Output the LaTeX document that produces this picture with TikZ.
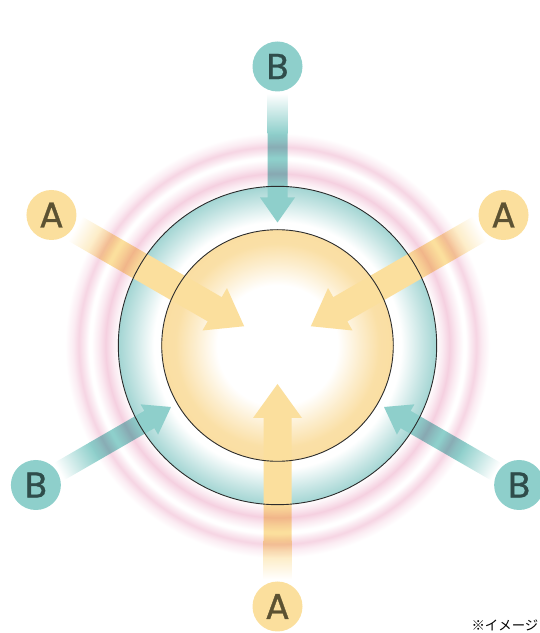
\documentclass[tikz,border=0pt]{standalone}
\usepackage{fontspec}
\setmainfont{Poppins}
\newfontfamily\lblfont{Poppins}[FakeBold=0.8]
\newfontfamily\jpfont{Noto Sans CJK JP}
\usetikzlibrary{calc}
\definecolor{yelA}{RGB}{251,223,157}
\definecolor{tealB}{RGB}{142,207,203}
\definecolor{txtA}{RGB}{92,82,50}
\definecolor{txtB}{RGB}{47,77,75}
\definecolor{tealring}{RGB}{163,213,211}
\definecolor{yelring}{RGB}{250,222,162}
\definecolor{pinkring}{RGB}{245,208,224}
\definecolor{outline}{RGB}{45,45,45}
\pgfdeclareradialshading{outerdisc}{\pgfpoint{0bp}{0bp}}{color(0bp)=(white); color(19.4bp)=(white); color(22.8bp)=(tealring!62); color(25bp)=(tealring); color(50bp)=(tealring)}
\pgfdeclareradialshading{innerdisc}{\pgfpoint{0bp}{0bp}}{color(0bp)=(white); color(13bp)=(white); color(18bp)=(yelring!55); color(22bp)=(yelring!95); color(25bp)=(yelring); color(50bp)=(yelring)}
\pgfdeclareradialshading{pinkrings}{\pgfpoint{0bp}{0bp}}{color(0bp)=(white); color(18.4bp)=(white); color(19.2bp)=(pinkring!45); color(20bp)=(pinkring); color(20.8bp)=(pinkring!45); color(21.6bp)=(white); color(21.9bp)=(white); color(22.4bp)=(pinkring!40); color(23.1bp)=(pinkring!90); color(23.8bp)=(pinkring!40); color(24.7bp)=(white); color(50bp)=(white)}
\tikzset{
  lblA/.style={circle, fill=yelA, minimum size=50pt, inner sep=0pt, text=txtA, font=\lblfont\fontsize{36}{36}\selectfont},
  lblB/.style={circle, fill=tealB, minimum size=50pt, inner sep=0pt, text=txtB, font=\lblfont\fontsize{36}{36}\selectfont},
  ringline/.style={draw=outline, line width=0.9pt},
}
% #1 angle, #2 colour, #3 tip distance, #4 head length, #5 head half width,
% #6 shaft half width, #7 end of solid shaft, #8 end of faded shaft
\newcommand{\flowarrow}[8]{%
  \begin{scope}[transform canvas={shift={(c)}, rotate=#1}]
    \fill[#2] (#3,0) -- ({#3+#4},#5) -- ({#3+#4},#6) -- (#7,#6) -- (#7,-#6)
      -- ({#3+#4},-#6) -- ({#3+#4},-#5) -- cycle;
    \shade[left color=#2, right color=white] ({#7-0.4},-#6) rectangle (#8,#6);
  \end{scope}}
\begin{document}
\begin{tikzpicture}[x=1pt, y=1pt]
\useasboundingbox (0,0) rectangle (540,633);
\coordinate (c) at (277.5,287.5);
% filled discs
\shade[shading=outerdisc] (c) circle (159.2);
\shade[shading=innerdisc] (c) circle (115.8);
% arrows
\flowarrow{-90}{yelA}{38.5}{34}{24.5}{14}{195}{234}
\flowarrow{150}{yelA}{38.5}{34}{24.5}{14}{195}{234}
\flowarrow{30}{yelA}{38.5}{34}{24.5}{14}{195}{234}
\flowarrow{90}{tealB}{123}{25}{17.5}{10}{212}{252}
\flowarrow{210}{tealB}{123}{25}{17.5}{10}{212}{252}
\flowarrow{330}{tealB}{123}{25}{17.5}{10}{212}{252}
% circle outlines
\draw[ringline] (c) circle (159.2);
\draw[ringline] (c) circle (115.8);
% pink rings
\begin{scope}[blend mode=multiply]
  \shade[shading=pinkrings] (c) circle (215);
\end{scope}
% labels
\node[lblA] (A1) at ($(c)+(-90:261)$) {A};
\node[lblA] (A2) at ($(c)+(150:261)$) {A};
\node[lblA] (A3) at ($(c)+(30:261)$) {A};
\node[lblB] (B1) at ($(c)+(90:279)$) {B};
\node[lblB] (B2) at ($(c)+(210:279)$) {B};
\node[lblB] (B3) at ($(c)+(330:279)$) {B};
% note
\node[anchor=base east, inner sep=0pt, font=\jpfont\fontsize{13.4}{13.4}\selectfont] (note) at (538.5,2) {※イメージ};
\end{tikzpicture}
\end{document}
